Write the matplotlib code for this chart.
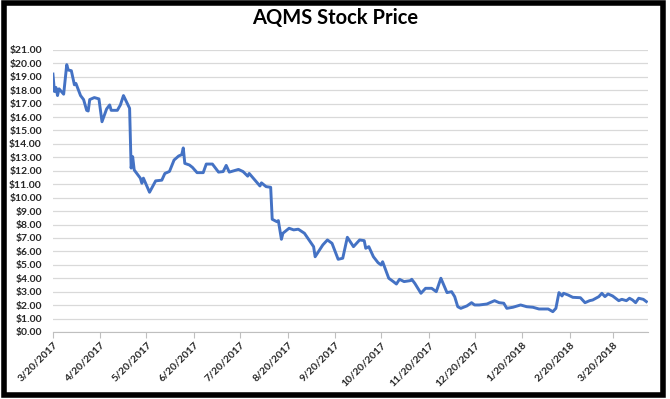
import datetime as dt
import matplotlib
matplotlib.use("Agg")
import matplotlib.pyplot as plt
from matplotlib.patches import Rectangle

# data: days after 3/20/2017 and close price
start = dt.date(2017, 3, 20)
day_offset = [0, 1, 2, 3, 4, 7, 9, 10, 12, 14, 15, 18, 20, 22, 23, 24, 27, 30, 32, 35,
              37, 38, 42, 44, 46, 50, 51, 52, 53, 57, 58, 59, 63, 67, 71, 73, 76, 79, 82, 84,
              85, 86, 89, 91, 94, 98, 100, 104, 108, 111, 113, 115, 121, 124, 127, 128, 135, 136, 139, 142,
              143, 146, 147, 149, 150, 154, 157, 160, 164, 170, 171, 176, 179, 182, 186, 189, 192, 196, 200, 203,
              204, 206, 209, 212, 214, 215, 219, 222, 224, 226, 229, 233, 234, 236, 240, 243, 247, 250, 253, 257,
              260, 262, 264, 266, 270, 273, 275, 278, 283, 288, 291, 294, 296, 300, 305, 309, 313, 317, 323, 326,
              328, 330, 332, 333, 336, 339, 344, 347, 350, 352, 356, 358, 360, 362, 365, 369, 371, 374, 376, 378,
              380, 382, 385, 387]
price = [19.2, 17.9, 18.2, 17.6, 18.1, 17.7, 19.9, 19.5, 19.45, 18.4, 18.5, 17.6, 17.3, 16.5, 16.45, 17.3, 17.45, 17.35, 15.65, 16.6,
         16.9, 16.5, 16.5, 16.9, 17.6, 16.65, 12.2, 13.05, 12.06, 11.45, 11.07, 11.45, 10.4, 11.25, 11.3, 11.8, 11.95, 12.8, 13.1, 13.2,
         13.7, 12.55, 12.43, 12.25, 11.86, 11.86, 12.5, 12.5, 11.9, 11.94, 12.4, 11.9, 12.1, 11.94, 11.6, 11.8, 10.87, 11.1, 10.82, 10.77,
         8.39, 8.21, 8.29, 6.9, 7.35, 7.72, 7.6, 7.65, 7.35, 6.35, 5.6, 6.48, 6.85, 6.6, 5.41, 5.49, 7.05, 6.35, 6.85, 6.8,
         6.23, 6.35, 5.6, 5.16, 4.99, 5.23, 4.0, 3.75, 3.57, 3.92, 3.75, 3.82, 3.92, 3.62, 2.88, 3.25, 3.25, 3.0, 4.0, 2.93,
         3.0, 2.63, 1.88, 1.76, 1.94, 2.18, 2.01, 2.01, 2.08, 2.33, 2.18, 2.14, 1.76, 1.84, 2.01, 1.88, 1.84, 1.71, 1.71, 1.51,
         1.76, 2.93, 2.68, 2.88, 2.75, 2.58, 2.55, 2.18, 2.33, 2.38, 2.63, 2.88, 2.63, 2.83, 2.68, 2.33, 2.43, 2.33, 2.51, 2.38,
         2.18, 2.51, 2.43, 2.26]
dates = [start + dt.timedelta(days=d) for d in day_offset]

tick_labels = ["3/20/2017", "4/20/2017", "5/20/2017", "6/20/2017", "7/20/2017", "8/20/2017",
               "9/20/2017", "10/20/2017", "11/20/2017", "12/20/2017", "1/20/2018", "2/20/2018",
               "3/20/2018"]
tick_dates = [dt.datetime.strptime(s, "%m/%d/%Y").date() for s in tick_labels]

plt.rcParams["font.family"] = ["Lato", "DejaVu Sans"]

fig = plt.figure(figsize=(6.7, 3.99), dpi=100)
ax = fig.add_axes([0.079, 0.168, 0.888, 0.707])
ax.plot(dates, price, color="#4472C4", lw=2.1, solid_joinstyle="round")

ax.set_ylim(0, 21)
ax.set_yticks(range(22))
ax.set_yticklabels(["$%.2f" % v for v in range(22)], fontsize=7.5, fontweight="bold", color="#262626")
ax.set_xlim(start, start + dt.timedelta(days=388))
ax.set_xticks(tick_dates)
ax.set_xticklabels(tick_labels, rotation=45, ha="right", rotation_mode="anchor",
                   fontsize=7.5, fontweight="bold", color="#262626")

ax.grid(axis="y", color="#D9D9D9", lw=0.9)
ax.set_axisbelow(True)
for s in ["top", "right", "left"]:
    ax.spines[s].set_visible(False)
ax.spines["bottom"].set_color("#BFBFBF")
ax.tick_params(axis="y", length=0, pad=8)
ax.tick_params(axis="x", length=4, color="#BFBFBF", pad=2)

fig.text(0.5, 1 - 18 / 399, "AQMS Stock Price", ha="center", va="center",
         fontsize=14.5, fontweight="bold")

# thick black frame round the whole chart
fig.patches.append(Rectangle((0.0067, 0.009), 0.983, 0.984, transform=fig.transFigure,
                             fill=False, ec="black", lw=4))

fig.savefig("out.png", dpi=100)
